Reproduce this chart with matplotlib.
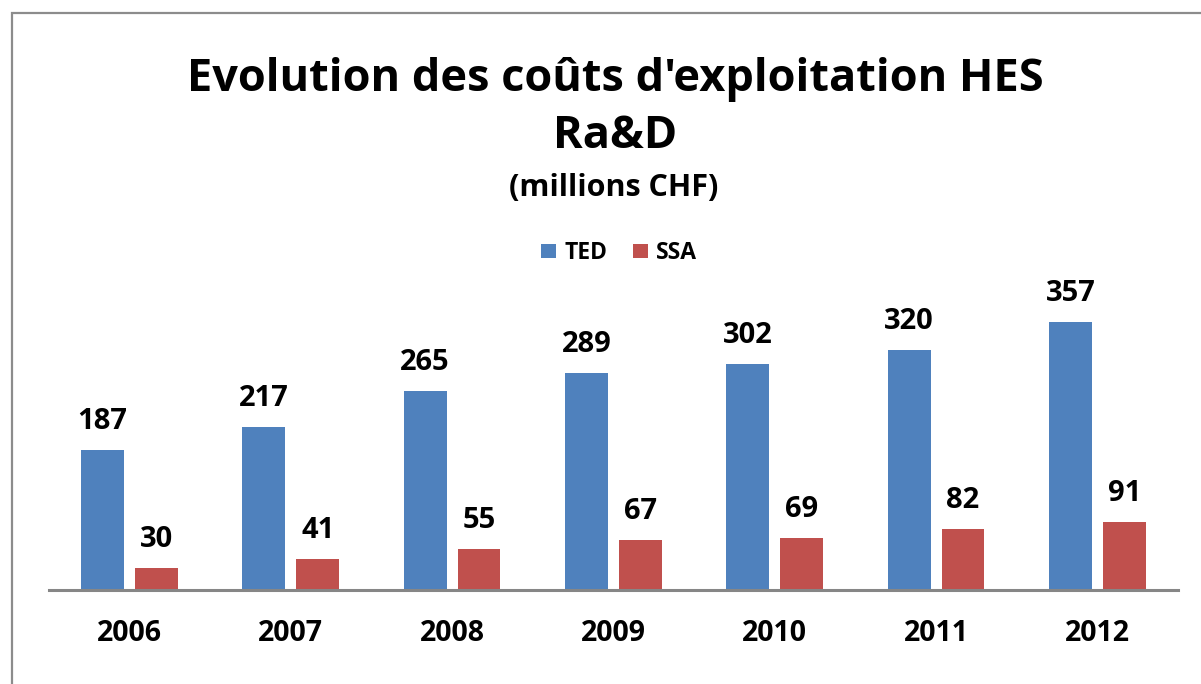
import matplotlib.pyplot as plt
import numpy as np
from matplotlib.patches import Rectangle

years = ["2006", "2007", "2008", "2009", "2010", "2011", "2012"]
ted = [187, 217, 265, 289, 302, 320, 357]
ssa = [30, 41, 55, 67, 69, 82, 91]

plt.rcParams["font.family"] = ["Open Sans", "DejaVu Sans"]
plt.rcParams["font.weight"] = "bold"

W, H = 1201, 684
fig = plt.figure(figsize=(W / 100, H / 100), dpi=100)

# outer chart border (right/bottom edges fall outside the image)
fig.patches.append(Rectangle((12 / W, -0.1), 1.1, 1 - 13 / H + 0.1,
                             transform=fig.transFigure, fill=False,
                             edgecolor="#8c8c8c", linewidth=1.6))

left, right, bottom, top = 48.8, 1178, 590, 280
ax = fig.add_axes([left / W, 1 - bottom / H, (right - left) / W, (bottom - top) / H])

x = np.arange(len(years))
bw = 0.266
gap = 0.068
b1 = ax.bar(x - (bw + gap) / 2, ted, bw, color="#4F81BD")
b2 = ax.bar(x + (bw + gap) / 2, ssa, bw, color="#C0504D")

for bars, vals in ((b1, ted), (b2, ssa)):
    for r, v in zip(bars, vals):
        ax.annotate(str(v), (r.get_x() + r.get_width() / 2, v),
                    xytext=(0, 15), textcoords="offset points",
                    ha="center", va="baseline", fontsize=21, fontweight="bold")

ax.set_xlim(-0.5, len(years) - 0.5)
ax.set_ylim(0, (bottom - top) / 0.75)
ax.set_xticks(x)
ax.set_xticklabels(years, fontsize=20.5, fontweight="bold")
ax.tick_params(axis="x", length=0, pad=21)
ax.set_yticks([])
for s in ("top", "right", "left"):
    ax.spines[s].set_visible(False)
ax.spines["bottom"].set_color("#868686")
ax.spines["bottom"].set_linewidth(2.2)

fig.text(615 / W, 1 - 79 / H, "Evolution des coûts d'exploitation HES",
         ha="center", va="center", fontsize=32.5, fontweight="bold")
fig.text(615 / W, 1 - 136 / H, "Ra&D",
         ha="center", va="center", fontsize=32.5, fontweight="bold")
fig.text(614 / W, 1 - 188 / H, "(millions CHF)",
         ha="center", va="center", fontsize=22, fontweight="bold")

fig.legend([b1, b2], ["TED", "SSA"], loc="center", bbox_to_anchor=(619 / W, 1 - 253 / H),
           ncol=2, frameon=False, fontsize=16.5, handlelength=0.65, handleheight=0.6,
           handletextpad=0.35, columnspacing=1.1)

fig.savefig("out.png", dpi=100)
